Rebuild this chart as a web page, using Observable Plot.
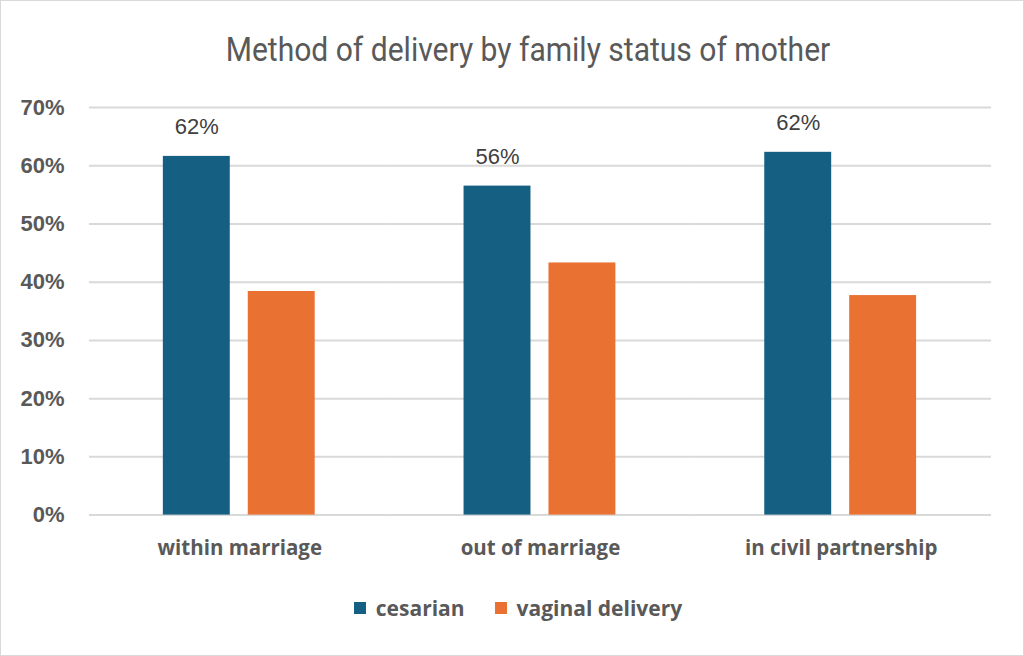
<!DOCTYPE html>
<html>
<head>
<meta charset="utf-8">
<script src="https://cdn.jsdelivr.net/npm/d3@7"></script>
<script src="https://cdn.jsdelivr.net/npm/@observablehq/plot@0.6"></script>
<style>
  html, body { margin: 0; padding: 0; background: #fff; }
  #frame { position: relative; width: 1022px; height: 654px; border: 1px solid #d9d9d9; overflow: hidden; background: #fff; }
  #title { position: absolute; top: 29px; left: 0; width: 1054px; text-align: center; font-family: "Roboto", sans-serif; font-size: 33px; color: #595959; font-weight: normal; transform: scaleX(0.91); transform-origin: 527px 0; }
  #chart { position: absolute; top: 89px; left: -1px; }
  #legend { position: absolute; top: 593px; left: 0; width: 1022px; display: flex; justify-content: center; gap: 30px; font-family: "Open Sans", sans-serif; font-weight: 700; font-size: 21px; color: #595959; padding-left: 12px; box-sizing: border-box; }
  .item { display: flex; align-items: center; gap: 10px; }
  .sw { width: 12px; height: 12px; display: inline-block; }
</style>
</head>
<body>
<div id="frame">
  <div id="title">Method of delivery by family status of mother</div>
  <div id="chart"></div>
  <div id="legend"></div>
</div>
<script>
const categories = ["within marriage", "out of marriage", "in civil partnership"];
const series = ["cesarian", "vaginal delivery"];
const cesarian = [0.616, 0.565, 0.623];
const vaginal = [0.384, 0.433, 0.377];
const labelText = ["62%", "56%", "62%"];
const yTicks = [0, 0.1, 0.2, 0.3, 0.4, 0.5, 0.6, 0.7];
const colors = ["#156082", "#E97132"];

const data = [];
categories.forEach((c, i) => {
  data.push({cat: c, series: series[0], value: cesarian[i], label: labelText[i]});
  data.push({cat: c, series: series[1], value: vaginal[i], label: null});
});

const chart = Plot.plot({
  width: 1024,
  height: 480,
  marginTop: 17,
  marginBottom: 55,
  marginLeft: 89,
  marginRight: 32,
  style: {fontFamily: "Liberation Sans, sans-serif", color: "#595959", background: "transparent"},
  fx: {domain: categories, padding: 0, label: null},
  x: {domain: series, axis: null, paddingInner: 0.209, paddingOuter: 0.86},
  y: {domain: [0, 0.7], axis: null},
  color: {domain: series, range: colors},
  marks: [
    Plot.gridY(yTicks, {stroke: "#d9d9d9", strokeOpacity: 1, strokeWidth: 2}),
    Plot.axisY({ticks: yTicks, tickFormat: d3.format(".0%"), tickSize: 0, tickPadding: 25, label: null, fontSize: 22, fontWeight: "bold", fill: "#595959"}),
    Plot.barY(data, {fx: "cat", x: "series", y: "value", fill: "series"}),
    Plot.text(data.filter(d => d.label), {fx: "cat", x: "series", y: "value", text: "label", dy: -29, fontSize: 22, fill: "#404040"}),
    Plot.axisFx({anchor: "bottom", tickSize: 0, tickPadding: 25, label: null, fontSize: 20.5, fontWeight: 700, fontFamily: "Open Sans, sans-serif", fill: "#595959"})
  ]
});
document.getElementById("chart").appendChild(chart);

const legend = document.getElementById("legend");
series.forEach((s, i) => {
  const it = document.createElement("div");
  it.className = "item";
  const sw = document.createElement("span");
  sw.className = "sw";
  sw.style.background = colors[i];
  const t = document.createElement("span");
  t.textContent = s;
  it.appendChild(sw); it.appendChild(t);
  legend.appendChild(it);
});
</script>
</body>
</html>
